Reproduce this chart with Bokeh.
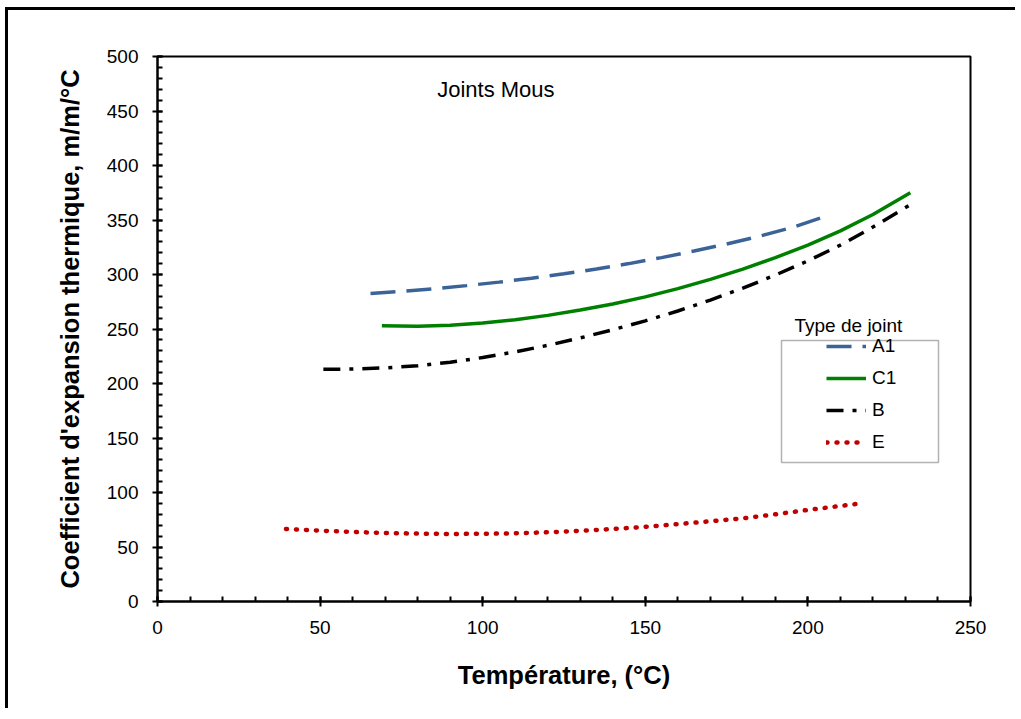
from bokeh.plotting import figure
from bokeh.models import (Range1d, SingleIntervalTicker, Legend, LegendItem,
                          Label, BoxAnnotation)
from bokeh.embed import file_html
from bokeh.resources import INLINE

FONT = "Liberation Sans"

# ---- data ----
a1_x = [65.5, 75, 85, 95, 105, 115, 125, 135, 145, 155, 165, 175, 185, 195, 204]
a1_y = [282.5, 284.5, 287, 289.8, 293, 296.6, 300.6, 305, 310, 315.5, 321.5, 328, 335, 343, 352]

c1_x = [69, 80, 90, 100, 110, 120, 130, 140, 150, 160, 170, 180, 190, 200, 210, 220, 231.5]
c1_y = [253, 252.5, 253.5, 255.5, 258.5, 262.5, 267.5, 273, 279.5, 287, 295.5, 305, 315.5,
        327, 340, 355, 375]

b_x = [51, 60, 70, 80, 90, 100, 110, 120, 130, 140, 150, 160, 170, 180, 190, 200, 210,
       220, 231.5]
b_y = [213, 213.3, 214.3, 216.3, 219.5, 223.8, 229, 235, 241.8, 249.3, 257.5, 266.5, 276.5,
       287.5, 299.5, 312.5, 327, 343.5, 364]

e_x = [39.5, 50, 60, 70, 80, 90, 100, 110, 120, 130, 140, 150, 160, 170, 180, 190, 200,
       210, 217]
e_y = [66.5, 65, 63.8, 62.9, 62.3, 62, 62.1, 62.6, 63.5, 64.8, 66.5, 68.5, 71, 73.6, 76.3,
       80, 84, 87.7, 90.3]

series_names = ["A1", "C1", "B", "E"]
x_label = "Température, (°C)"
y_label = "Coefficient d'expansion thermique, m/m/°C"
note_text = "Joints Mous"
legend_title = "Type de joint"

p = figure(width=1010, height=701, output_backend="svg", toolbar_location=None,
           x_range=Range1d(0, 250), y_range=Range1d(0, 500),
           min_border_left=149, min_border_right=48, min_border_top=46,
           min_border_bottom=110)
p.styles = {"margin-left": "5px", "margin-top": "7px",
            "border-left": "3px solid black", "border-top": "3px solid black"}

p.xgrid.visible = False
p.ygrid.visible = False
p.outline_line_color = "black"
p.outline_line_width = 2
p.background_fill_color = "white"
p.border_fill_color = "white"

p.xaxis.ticker = SingleIntervalTicker(interval=50, num_minor_ticks=5)
p.yaxis.ticker = SingleIntervalTicker(interval=50, num_minor_ticks=5)
for ax in (p.xaxis[0], p.yaxis[0]):
    ax.axis_line_width = 2
    ax.axis_line_color = "black"
    ax.major_tick_line_width = 2
    ax.major_tick_line_color = "black"
    ax.minor_tick_line_width = 2
    ax.minor_tick_line_color = "black"
    ax.major_tick_in = 5
    ax.major_tick_out = 5
    ax.minor_tick_in = 5
    ax.minor_tick_out = 0
    ax.major_label_text_font = FONT
    ax.major_label_text_font_size = "19px"
    ax.major_label_text_color = "black"
    ax.axis_label_text_font = FONT
    ax.axis_label_text_font_size = "25.5px"
    ax.axis_label_text_font_style = "bold"
    ax.axis_label_text_color = "black"
p.xaxis.axis_label = x_label
p.yaxis.axis_label = y_label
p.xaxis.major_label_standoff = 14
p.yaxis.major_label_standoff = 14
p.xaxis.axis_label_standoff = 24
p.yaxis.axis_label_standoff = 20

r_a1 = p.line(a1_x, a1_y, line_color="#3B6397", line_width=3.5, line_dash="25 11")
r_c1 = p.line(c1_x, c1_y, line_color="#008000", line_width=3.5)
r_b = p.line(b_x, b_y, line_color="black", line_width=3.5, line_dash="17 9 4 9")
r_e = p.line(e_x, e_y, line_color="#C00000", line_width=4.5, line_dash="1 9",
             line_cap="round")

legend = Legend(items=[LegendItem(label=n, renderers=[r]) for n, r in
                       zip(series_names, [r_a1, r_c1, r_b, r_e])],
                location=(669, 148), orientation="vertical",
                glyph_width=40, glyph_height=20, label_height=20,
                label_standoff=6, spacing=10, padding=0, margin=0,
                border_line_alpha=0, background_fill_alpha=0,
                label_text_font=FONT, label_text_font_size="19px",
                label_text_color="black")
p.add_layout(legend)

box = BoxAnnotation(left=624, right=781, bottom=139, top=261,
                    left_units="screen", right_units="screen",
                    bottom_units="screen", top_units="screen",
                    fill_alpha=0, line_color="black", line_width=1.5)
p.add_layout(box)

title_lbl = Label(x=637, y=276, x_units="screen", y_units="screen",
                  text=legend_title, text_font=FONT, text_font_size="19px",
                  text_baseline="middle", text_color="black")
p.add_layout(title_lbl)

note = Label(x=86, y=470, text=note_text, text_font=FONT, text_font_size="22px",
             text_baseline="middle", text_color="black")
p.add_layout(note)

open("out.html", "w").write(file_html(p, INLINE))
